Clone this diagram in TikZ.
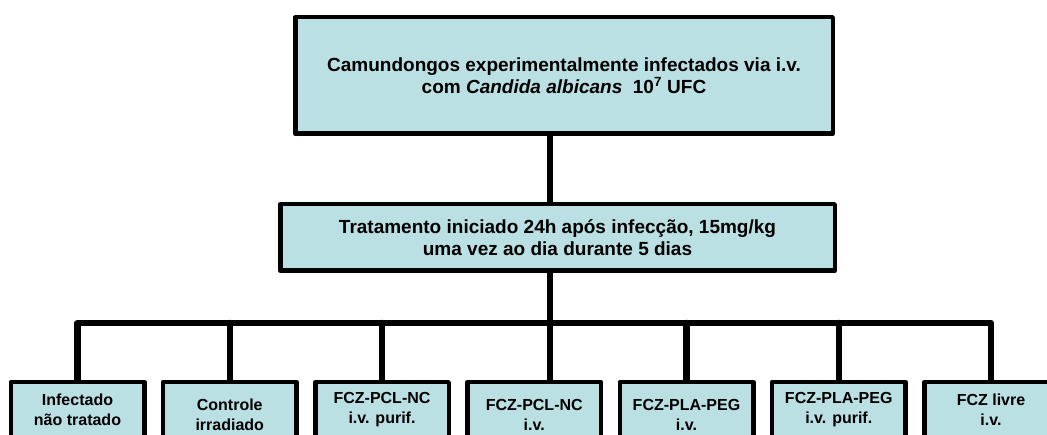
\documentclass[tikz,border=0pt]{standalone}
\usepackage{fontspec}
\setmainfont{Liberation Sans}
\usetikzlibrary{positioning}
\definecolor{boxfill}{RGB}{187,224,227}

\begin{document}
\begin{tikzpicture}[x=1pt,y=-1pt]
    % Block styles
    \tikzstyle{block} = [rectangle, draw, line width=4.5pt, line join=round, fill=boxfill, align=center, inner sep=0pt, font=\fontsize{19}{21.5}\selectfont\bfseries]
    \tikzstyle{arm} = [block, minimum width=133.5pt, minimum height=55.5pt, font=\fontsize{16}{20}\selectfont\bfseries]
    \tikzstyle{armtall} = [arm, minimum height=65.5pt]
    \tikzstyle{link} = [line width=6.5pt, line cap=round, line join=round]

    \useasboundingbox (0,0) rectangle (1047,435);

    % Upper boxes
    \node[block, minimum width=537.5pt, minimum height=116.5pt] (infection) at (564,75.5)
        {Camundongos experimentalmente infectados via i.v.\\com \textit{Candida albicans}\ \ 10\textsuperscript{7} UFC};
    \node[block, minimum width=554.5pt, minimum height=66.5pt, below=66pt of infection, xshift=-6.5pt] (treatment)
        {Tratamento iniciado 24h após infecção, 15mg/kg\\uma vez ao dia durante 5 dias};

    % Lower row
    \node[arm, anchor=north] (untreated) at (77.5,380) {Infectado\\não tratado};
    \node[armtall, right=14.25pt of untreated.north east, anchor=north west] (irradiated) {Controle\\irradiado};
    \node[arm, right=14.25pt of irradiated.north east, anchor=north west] (pclpurif) {FCZ-PCL-NC\\i.v. purif.};
    \node[armtall, right=14.25pt of pclpurif.north east, anchor=north west] (pcl) {FCZ-PCL-NC\\i.v.};
    \node[armtall, right=14.25pt of pcl.north east, anchor=north west] (pla) {FCZ-PLA-PEG\\i.v.};
    \node[arm, right=14.25pt of pla.north east, anchor=north west] (plapurif) {FCZ-PLA-PEG\\i.v. purif.};
    \node[arm, right=14.25pt of plapurif.north east, anchor=north west] (free) {FCZ livre\\i.v.};

    % Connections
    \coordinate (junction) at (550,323);
    \draw[link] (infection.south -| junction) -- (treatment.north -| junction);
    \draw[link] (treatment.south -| junction) -- (pcl.north -| junction);
    \draw[link] (untreated.north) -- (untreated.north |- junction) -- (free.north |- junction) -- (free.north);
    \foreach \arm in {irradiated, pclpurif, pla, plapurif}
        \draw[link] (\arm.north |- junction) -- (\arm.north);
\end{tikzpicture}
\end{document}
